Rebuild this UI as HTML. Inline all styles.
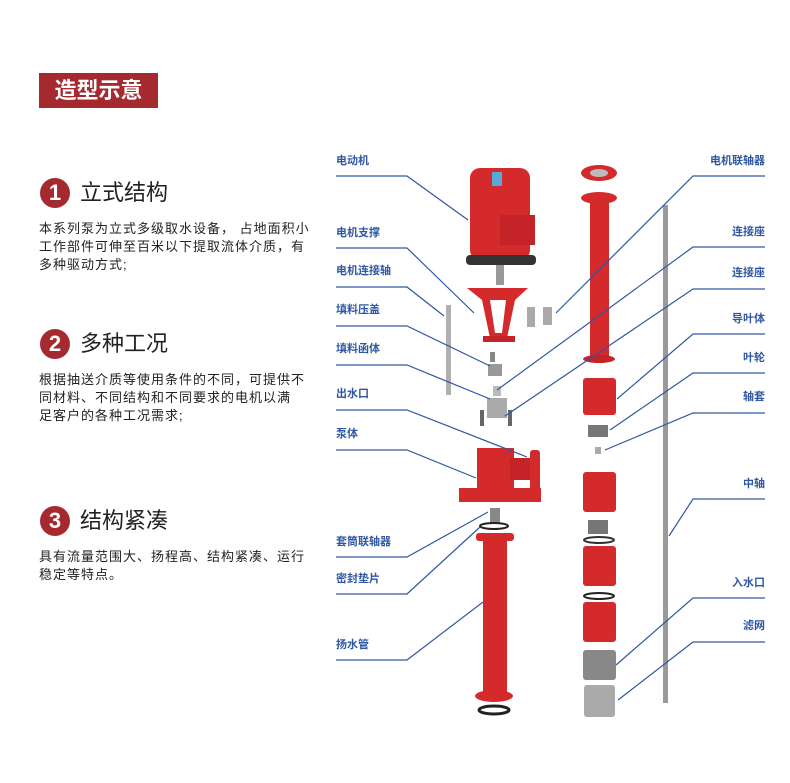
<!DOCTYPE html>
<html><head><meta charset="utf-8"><style>
body{margin:0;background:#fff;width:790px;height:783px;overflow:hidden;position:relative;font-family:"Liberation Sans","Noto Sans CJK SC",sans-serif}
.ban{position:absolute;left:39px;top:73px;width:119px;height:35px;background:#a52a30;color:#fff;font-size:22px;font-weight:bold;line-height:35px;text-align:center}
.num{position:absolute;left:40px;width:30px;height:30px;border-radius:50%;background:#a52a30;color:#fff;font-size:22px;font-weight:bold;line-height:30px;text-align:center}
.tt{position:absolute;left:80px;font-size:22px;color:#222;line-height:30px}
.bd{position:absolute;left:39px;font-size:13px;color:#222;line-height:18px;white-space:nowrap;letter-spacing:1px}
svg{position:absolute;left:0;top:0}
</style></head><body>
<div class="ban">造型示意</div>
<div class="num" style="top:178px">1</div><div class="tt" style="top:178px">立式结构</div>
<div class="bd" style="top:220px">本系列泵为立式多级取水设备，&nbsp;占地面积小<br>工作部件可伸至百米以下提取流体介质，有<br>多种驱动方式;</div>
<div class="num" style="top:329px">2</div><div class="tt" style="top:329px">多种工况</div>
<div class="bd" style="top:371px">根据抽送介质等使用条件的不同，可提供不<br>同材料、不同结构和不同要求的电机以满<br>足客户的各种工况需求;</div>
<div class="num" style="top:506px">3</div><div class="tt" style="top:506px">结构紧凑</div>
<div class="bd" style="top:548px">具有流量范围大、扬程高、结构紧凑、运行<br>稳定等特点。</div>
<svg width="790" height="783" font-family="Liberation Sans,Noto Sans CJK SC,sans-serif">
<rect x="663" y="205" width="5" height="498" fill="#9a9a9a"/>
<rect x="446" y="305" width="5" height="90" fill="#b0b0b0"/>
<rect x="470" y="168" width="60" height="92" rx="10" fill="#d42a2c"/>
<rect x="500" y="215" width="35" height="30" fill="#c42428"/>
<rect x="492" y="172" width="10" height="14" fill="#5aa8d8"/>
<rect x="466" y="255" width="70" height="10" rx="4" fill="#333"/>
<rect x="496" y="265" width="8" height="20" fill="#999"/>
<polygon points="467,288 528,288 515,300 507,338 490,338 482,300" fill="#d42a2c"/>
<polygon points="490,300 506,300 502,333 495,333" fill="#fff"/>
<rect x="483" y="336" width="32" height="6" fill="#c42428"/>
<rect x="527" y="307" width="8" height="20" fill="#aaa"/><rect x="543" y="307" width="9" height="18" fill="#aaa"/>
<rect x="490" y="352" width="5" height="10" fill="#888"/>
<rect x="488" y="364" width="14" height="12" fill="#999"/>
<rect x="493" y="386" width="8" height="10" fill="#bbb"/>
<rect x="487" y="398" width="20" height="20" fill="#aaa"/>
<rect x="480" y="410" width="4" height="16" fill="#666"/><rect x="508" y="410" width="4" height="16" fill="#666"/>
<rect x="477" y="448" width="37" height="45" fill="#d42a2c"/>
<rect x="510" y="458" width="22" height="22" fill="#c42428"/>
<rect x="530" y="450" width="10" height="40" rx="3" fill="#d42a2c"/>
<rect x="459" y="488" width="82" height="14" fill="#d42a2c"/>
<rect x="490" y="508" width="10" height="16" fill="#888"/>
<ellipse cx="494" cy="526" rx="14" ry="3" fill="none" stroke="#222" stroke-width="2"/>
<rect x="483" y="537" width="24" height="160" fill="#d42a2c"/>
<rect x="476" y="533" width="38" height="8" rx="3" fill="#d42a2c"/>
<ellipse cx="494" cy="696" rx="19" ry="6" fill="#d42a2c"/>
<ellipse cx="494" cy="710" rx="15" ry="4" fill="none" stroke="#222" stroke-width="3"/>
<ellipse cx="599" cy="173" rx="18" ry="8" fill="#d42a2c"/><ellipse cx="599" cy="173" rx="9" ry="4" fill="#bbb"/>
<ellipse cx="599" cy="198" rx="18" ry="6" fill="#d42a2c"/>
<rect x="590" y="198" width="19" height="160" fill="#d42a2c"/>
<ellipse cx="599" cy="359" rx="16" ry="4" fill="#c42428"/>
<rect x="583" y="378" width="33" height="37" rx="3" fill="#d42a2c"/>
<rect x="588" y="425" width="20" height="12" fill="#777"/>
<rect x="595" y="447" width="6" height="7" fill="#aaa"/>
<rect x="583" y="472" width="33" height="40" rx="3" fill="#d42a2c"/>
<rect x="588" y="520" width="20" height="14" fill="#777"/>
<ellipse cx="599" cy="540" rx="15" ry="3" fill="none" stroke="#333" stroke-width="2"/>
<rect x="583" y="546" width="33" height="40" rx="3" fill="#d42a2c"/>
<ellipse cx="599" cy="596" rx="15" ry="3" fill="none" stroke="#222" stroke-width="2"/>
<rect x="583" y="602" width="33" height="40" rx="3" fill="#d42a2c"/>
<rect x="583" y="650" width="33" height="30" rx="3" fill="#888"/>
<rect x="584" y="685" width="31" height="32" rx="3" fill="#aaa"/>
<g fill="none" stroke="#2f57a3" stroke-width="1.2">
<polyline points="336,176 407,176 468,220"/>
<polyline points="336,248 407,248 474,313"/>
<polyline points="336,287 407,287 444,316"/>
<polyline points="336,326 407,326 490,366"/>
<polyline points="336,365 407,365 490,399"/>
<polyline points="336,410 407,410 527,457"/>
<polyline points="336,450 407,450 476,478"/>
<polyline points="336,557 407,557 488,512"/>
<polyline points="336,594 407,594 480,527"/>
<polyline points="336,660 407,660 483,602"/>
<polyline points="765,176 693,176 556,313"/>
<polyline points="765,247 693,247 497,390"/>
<polyline points="765,289 693,289 505,416"/>
<polyline points="765,334 693,334 617,399"/>
<polyline points="765,373 693,373 610,430"/>
<polyline points="765,413 693,413 605,450"/>
<polyline points="765,499 693,499 669,536"/>
<polyline points="765,598 693,598 616,665"/>
<polyline points="765,642 693,642 618,700"/>
</g>
<g fill="#2f57a3" font-size="11" font-weight="bold">
<text x="336" y="164">电动机</text>
<text x="336" y="236">电机支撑</text>
<text x="336" y="274">电机连接轴</text>
<text x="336" y="313">填料压盖</text>
<text x="336" y="352">填料函体</text>
<text x="336" y="397">出水口</text>
<text x="336" y="437">泵体</text>
<text x="336" y="545">套筒联轴器</text>
<text x="336" y="582">密封垫片</text>
<text x="336" y="648">扬水管</text>
<g text-anchor="end">
<text x="765" y="164">电机联轴器</text>
<text x="765" y="235">连接座</text>
<text x="765" y="276">连接座</text>
<text x="765" y="322">导叶体</text>
<text x="765" y="361">叶轮</text>
<text x="765" y="400">轴套</text>
<text x="765" y="487">中轴</text>
<text x="765" y="586">入水口</text>
<text x="765" y="629">滤网</text>
</g></g>
</svg>
</body></html>
